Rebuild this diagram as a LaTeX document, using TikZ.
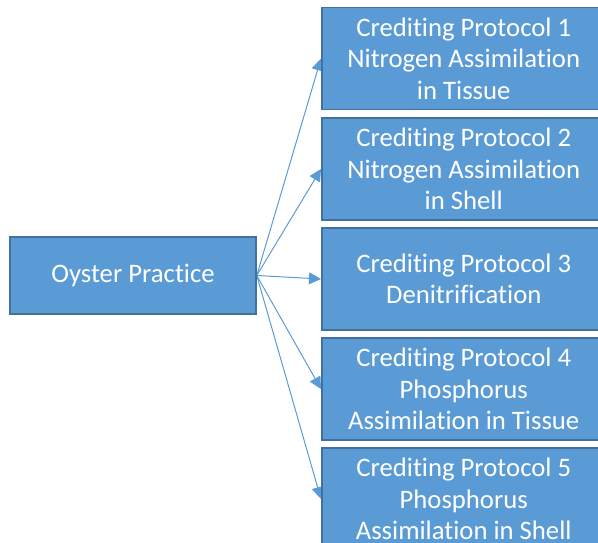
\documentclass[tikz,border=0pt]{standalone}
\usepackage{fontspec}
\setmainfont{Carlito}[Ligatures=NoCommon]
\usetikzlibrary{arrows.meta,backgrounds}
\definecolor{boxblue}{HTML}{5B9BD5}
\definecolor{boxedge}{HTML}{41719C}
\begin{document}
\begin{tikzpicture}[x=1pt,y=-1pt,
    box/.style={draw=boxedge,line width=1.5pt,fill=boxblue,text=white,align=center,
        font=\fontsize{26.7}{31.5}\selectfont,inner sep=2pt},
    protocol/.style={box,minimum width=284pt,minimum height=102pt,anchor=west},
    link/.style={draw=boxblue,line width=1pt,-{Triangle[length=12pt,width=12pt]}}]
\clip[use as bounding box] (0,0) rectangle (598,543);
\node[box,minimum width=246pt,minimum height=77pt] (oyster) at (133,275.5) {Oyster Practice};
\node[protocol] (p1) at (321,58.5) {Crediting Protocol 1\\Nitrogen Assimilation\\in Tissue};
\node[protocol] (p2) at (321,169) {Crediting Protocol 2\\Nitrogen Assimilation\\in Shell};
\node[protocol] (p3) at (321,279) {Crediting Protocol 3\\Denitrification};
\node[protocol] (p4) at (321,389) {Crediting Protocol 4\\Phosphorus\\Assimilation in Tissue};
\node[protocol] (p5) at (321,499) {Crediting Protocol 5\\Phosphorus\\Assimilation in Shell};
\begin{scope}[on background layer]
\foreach \p in {p1,p2,p3,p4,p5}
    \draw[link](oyster.east)--(\p.west);
\end{scope}
\end{tikzpicture}
\end{document}
